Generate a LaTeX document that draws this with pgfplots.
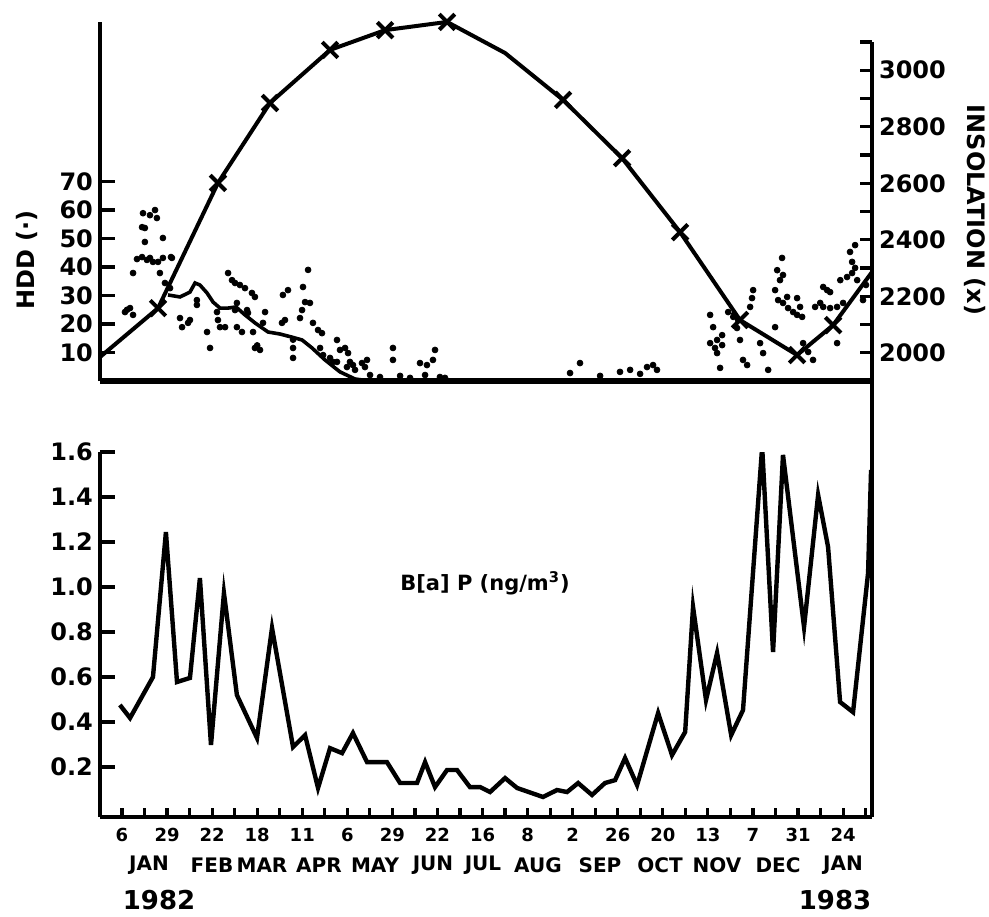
\documentclass[border=0pt]{standalone}
\usepackage{fontspec}
\setmainfont{DejaVu Sans}
\usepackage{pgfplots}
\pgfplotsset{compat=1.18}
\pgfplotsset{
  base/.style={
    scale only axis, width=386pt,
    xmin=-11.7, xmax=399.4,
    axis line style={line width=2pt, -},
    tick align=inside,
    every tick/.append style={black},
    /pgf/number format/assume math mode=true,
    tick label style={font=\bfseries\fontsize{12}{14}\selectfont},
  },
}
\begin{document}
\begin{tikzpicture}
\path[use as bounding box] (0pt,0pt) rectangle (494.5pt,-458pt);

% ---------- top panel : HDD ----------
\begin{axis}[base,
  at={(50pt,-190.5pt)}, anchor=south west, height=179.5pt,
  ymin=0, ymax=126,
  axis x line*=bottom, axis y line*=left,
  x axis line style={line width=2.6pt},
  xtick=\empty,
  ytick={10,20,30,40,50,60,70},
  major tick length=7.5pt,
  ytick style={draw=black, line width=1.8pt},
]
\addplot[only marks, mark=*, mark size=1.45pt] coordinates {
(11.2,58.9)(14.9,58.2)(17.6,60.0)(18.6,57.2)(10.7,54.0)(12.2,53.7)(12.2,48.8)(21.8,50.2)
(8.0,42.8)(10.7,43.5)(13.3,42.5)(14.9,43.2)(16.5,41.8)(19.2,41.8)(21.8,43.2)(26.6,43.2)(26.1,43.5)
(5.9,37.9)(20.2,37.9)(22.9,34.4)(25.6,32.6)(1.6,24.2)(4.3,25.6)(5.9,23.2)(2.7,25.0)
(30.9,22.1)(32.0,18.9)(35.2,20.4)(36.2,21.4)(39.9,26.7)(39.9,28.4)(45.3,17.2)(46.9,11.6)
(50.6,24.2)(51.1,21.4)(52.2,18.9)(54.9,18.9)(56.5,37.9)(58.6,35.4)(60.2,34.4)(62.8,33.7)
(65.5,32.6)(69.2,30.9)(70.8,29.5)(60.2,24.9)(61.2,27.4)(61.2,18.9)(63.9,17.2)(66.6,24.9)
(67.1,23.9)(69.8,17.2)(70.8,11.6)(73.5,10.9)(72.0,12.5)(76.2,24.2)(75.1,20.4)(85.2,20.4)(86.8,21.4)
(85.7,30.2)(88.4,31.9)(91.1,11.6)(91.1,8.1)(91.1,14.5)(96.4,33.0)(99.1,39.0)(97.5,27.7)(100.1,27.4)
(95.9,24.9)(94.8,22.1)(101.7,20.4)(104.4,17.9)(106.5,16.8)(105.5,11.6)(107.1,9.1)
(110.8,8.1)(112.4,6.7)(114.5,6.7)(114.5,14.4)(118.8,11.6)(120.4,9.8)(121.4,6.7)(123.0,5.6)
(116.1,10.9)(119.8,4.9)(124.1,3.9)(127.8,6.3)(130.5,7.4)(129.4,4.9)(144.3,11.6)(144.3,7.4)
(158.7,6.3)(162.4,5.6)(165.6,7.4)(166.7,10.9)(132.1,2.1)(137.4,1.4)(148.1,1.8)(153.4,1.1)
(161.4,2.1)(169.3,1.4)(172.0,1.1)
(243.9,6.3)(238.6,2.8)(265.2,3.2)(270.6,3.9)(279.6,4.9)(282.8,5.6)(284.9,3.9)(254.6,1.8)(275.9,2.5)
(313.2,23.2)(314.8,18.9)(319.6,16.1)(316.9,14.4)(313.2,13.3)(315.8,11.6)(319.6,12.6)(316.9,9.8)
(318.5,4.6)(322.8,24.2)(325.5,22.5)(328.1,21.4)(327.5,18.6)(329.1,14.4)(330.7,7.4)(332.9,5.6)
(334.5,26.0)(335.5,29.1)(336.1,31.9)(339.8,13.3)(341.4,9.8)(344.1,3.9)(347.8,18.9)(347.8,31.9)
(350.4,35.4)(351.5,43.2)(348.9,38.9)(352.0,37.2)(349.4,28.4)(352.0,27.4)(354.7,25.6)(357.4,24.2)
(359.5,23.2)(362.2,22.5)(354.2,29.5)(359.5,29.1)(361.1,26.0)(362.7,13.3)(365.4,10.2)(368.0,7.4)
(369.1,26.0)(371.8,27.4)(373.4,33.0)(375.5,31.9)(377.1,31.2)(380.8,13.3)(382.5,35.4)(386.1,36.5)
(388.8,37.9)(391.5,35.4)(387.7,45.3)(388.8,41.8)(390.4,39.7)(390.4,47.7)(373.4,26.0)(377.1,25.6)
(380.8,26.0)(384.0,27.4)(394.6,28.4)(396.2,33.7)
};
\addplot[line width=1.8pt] coordinates {
(24.5,30.2)(30.9,29.5)(36.2,31.2)(38.9,34.4)(41.5,33.7)(45.3,30.9)(48.5,27.7)(52.2,25.6)
(56.5,25.6)(60.7,26.0)(65.5,23.2)(70.8,20.4)(77.8,17.2)(84.1,16.5)(90.5,15.4)(95.9,14.4)
(101.2,11.6)(108.1,7.4)(116.1,3.2)(124.1,0.7)(132.1,0)
};
\end{axis}

% ---------- insolation axis (right) ----------
\begin{axis}[base,
  at={(50pt,-408.5pt)}, anchor=south west, height=387.5pt,
  ymin=357, ymax=3100,
  axis x line=none, axis y line*=right,
  xtick=\empty,
  ytick={2000,2200,2400,2600,2800,3000},
  minor ytick={2100,2300,2500,2700,2900,3100},
  major tick length=6pt, minor tick length=6pt,
  ytick style={draw=black, line width=1.6pt}, minor tick style={draw=black, line width=1.6pt},
  /pgf/number format/set thousands separator={},
  clip=false,
]
\addplot[line width=2pt] coordinates {
(-11.7,1985)(19.2,2158)(51.1,2601)(78.8,2884)(110.8,3072)(140.1,3142)(173.1,3171)
(204.0,3061)(234.9,2895)(266.3,2689)(297.2,2427)(329.1,2116)(359.5,1992)(378.7,2098)(399.4,2286)
};
\addplot[only marks, mark=x, mark size=5.5pt, mark options={line width=2pt}] coordinates {
(19.2,2158)(51.1,2601)(78.8,2884)(110.8,3072)(140.1,3142)(173.1,3171)
(234.9,2895)(266.3,2689)(297.2,2427)(329.1,2116)(359.5,1992)(378.7,2098)
};
\end{axis}

% ---------- bottom panel : B[a]P ----------
\begin{axis}[base,
  at={(50pt,-408.5pt)}, anchor=south west, height=182.5pt,
  ymin=-0.022, ymax=1.6,
  axis x line*=bottom, axis y line*=left,
  major tick length=4.5pt,
  xtick={0,12,...,396},
  xticklabels={6,{},29,{},22,{},18,{},11,{},6,{},29,{},22,{},16,{},8,{},2,{},26,{},20,{},13,{},7,{},31,{},24,{}},
  xticklabel style={font=\bfseries\fontsize{9}{10}\selectfont, yshift=-2pt},
  xtick style={draw=black, line width=1.6pt},
  ytick=\empty,
  extra y ticks={0.2,0.4,0.6,0.8,1.0,1.2,1.4,1.6},
  extra y tick labels={0.2,0.4,0.6,0.8,1.0,1.2,1.4,1.6},
  extra y tick style={major tick length=7.5pt, tick style={draw=black, line width=1.8pt}},
]
\addplot[line width=2.2pt] coordinates {
(-1.1,0.476)(4.3,0.418)(16.5,0.600)(23.4,1.244)(29.3,0.578)(36.2,0.596)(41.5,1.040)(47.4,0.298)
(54.3,0.973)(61.2,0.520)(71.9,0.329)(79.9,0.818)(91.1,0.289)(97.5,0.342)(104.4,0.107)(110.8,0.284)
(117.2,0.262)(123.0,0.351)(130.5,0.222)(141.1,0.222)(148.1,0.129)(157.1,0.129)(161.4,0.222)
(166.7,0.111)(173.1,0.187)(178.4,0.187)(185.3,0.111)(190.7,0.111)(196.0,0.089)(204.0,0.151)
(210.4,0.107)(224.2,0.067)(231.7,0.098)(237.0,0.089)(242.9,0.129)(250.3,0.076)(257.2,0.129)
(262.6,0.142)(267.9,0.240)(274.3,0.120)(285.5,0.440)(292.9,0.253)(299.9,0.356)(304.1,0.911)
(311.0,0.498)(316.9,0.707)(324.4,0.342)(330.7,0.453)(340.9,1.622)(346.7,0.711)(352.0,1.587)
(363.2,0.822)(370.7,1.409)(376.0,1.178)(382.4,0.489)(389.3,0.444)(397.3,1.062)(398.9,1.520)
};
\end{axis}

% ---------- text ----------
\node[font=\bfseries\fontsize{12}{14}\selectfont, rotate=90] at (13.5pt,-130pt) {HDD (·)};
\node[font=\bfseries\fontsize{12}{14}\selectfont, rotate=-90] at (487.5pt,-105pt) {INSOLATION (x)};
\node[font=\bfseries\fontsize{10.5}{12}\selectfont] at (242.5pt,-291.5pt) {B[a] P (ng/m\textsuperscript{3})};
\foreach \m/\xx in {JAN/74.5, FEB/106, MAR/131, APR/159.5, MAY/187.5, JUN/216.5, JUL/241.5,
  AUG/269, SEP/300, OCT/330, NOV/358.5, DEC/389, JAN/421.5}
  \node[font=\bfseries\fontsize{10}{12}\selectfont] at (\xx pt,-432.5pt) {\m};
\node[font=\bfseries\fontsize{13}{15}\selectfont] at (79.5pt,-450pt) {1982};
\node[font=\bfseries\fontsize{13}{15}\selectfont] at (417.5pt,-450pt) {1983};
\end{tikzpicture}
\end{document}
